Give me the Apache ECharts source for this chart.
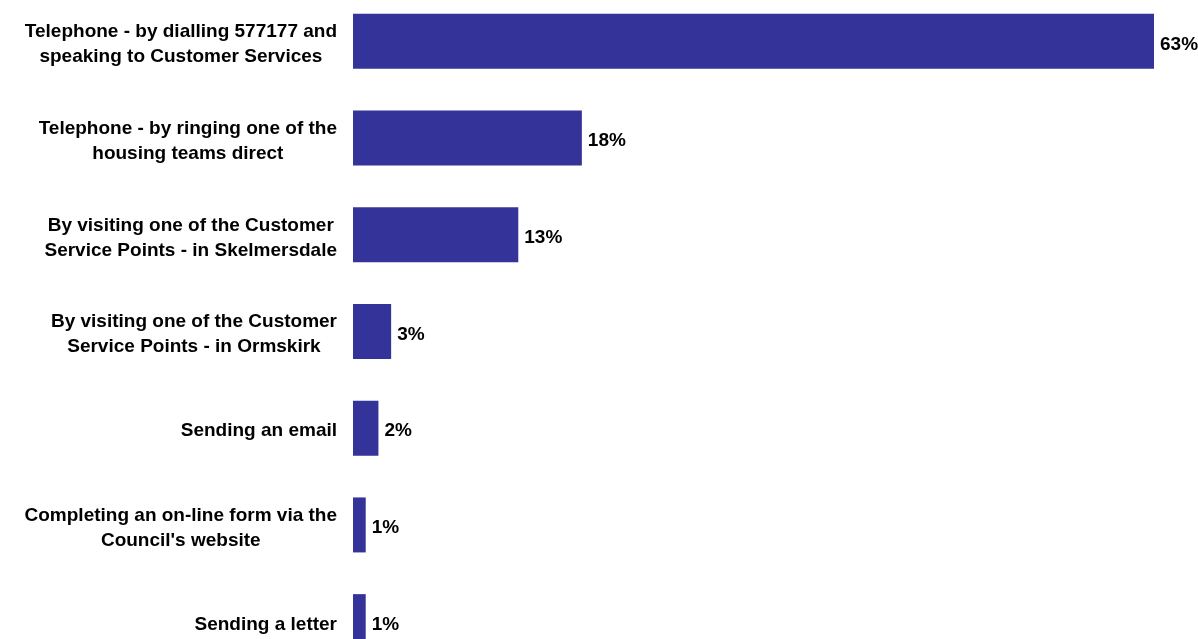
<!DOCTYPE html>
<html>
<head>
<meta charset="utf-8">
<title>Contact methods</title>
<script src="https://cdn.jsdelivr.net/npm/echarts@6/dist/echarts.min.js"></script>
<style>
  html, body { margin: 0; padding: 0; background: #ffffff; }
  #chart { width: 1198px; height: 639px; }
</style>
</head>
<body>
<div id="chart"></div>
<script>
// How residents contacted the Council (share of responses, %)
const categories = [
  "Telephone - by dialling 577177 and\nspeaking to Customer Services",
  "Telephone - by ringing one of the\nhousing teams direct",
  "By visiting one of the Customer\nService Points - in Skelmersdale",
  "By visiting one of the Customer\nService Points - in Ormskirk",
  "Sending an email",
  "Completing an on-line form via the\nCouncil's website",
  "Sending a letter"
];
const values = [63, 18, 13, 3, 2, 1, 1];

const FONT = "'Liberation Sans', Arial, sans-serif";

const chart = echarts.init(document.getElementById('chart'), null, { renderer: 'canvas' });

chart.setOption({
  animation: false,
  backgroundColor: '#ffffff',
  grid: {
    left: 353, width: 801, top: -7, height: 677,
    containLabel: false,
    outerBoundsMode: 'none'
  },
  xAxis: {
    type: 'value',
    min: 0,
    max: 63,
    show: false
  },
  yAxis: {
    type: 'category',
    inverse: true,
    data: categories,
    axisLine: { show: false },
    axisTick: { show: false },
    splitLine: { show: false },
    axisLabel: {
      margin: 16,
      interval: 0,
      lineHeight: 25,
      padding: [6, 0, 0, 0],
      fontFamily: FONT,
      fontWeight: 'bold',
      fontSize: 19,
      color: '#000000',
      // each line centred inside the right-aligned label block
      formatter: function (v) {
        return v.split('\n').map(function (s) { return '{c|' + s + '}'; }).join('\n');
      },
      rich: {
        c: {
          align: 'center',
          lineHeight: 25,
          fontFamily: FONT,
          fontWeight: 'bold',
          fontSize: 19,
          color: '#000000'
        }
      }
    }
  },
  series: [{
    type: 'bar',
    data: values,
    barWidth: 55,
    itemStyle: { color: '#333399' },
    label: {
      show: true,
      position: 'right',
      distance: 6,
      offset: [0, 3],
      formatter: '{c}%',
      fontFamily: FONT,
      fontWeight: 'bold',
      fontSize: 19,
      color: '#000000'
    }
  }]
});
</script>
</body>
</html>
